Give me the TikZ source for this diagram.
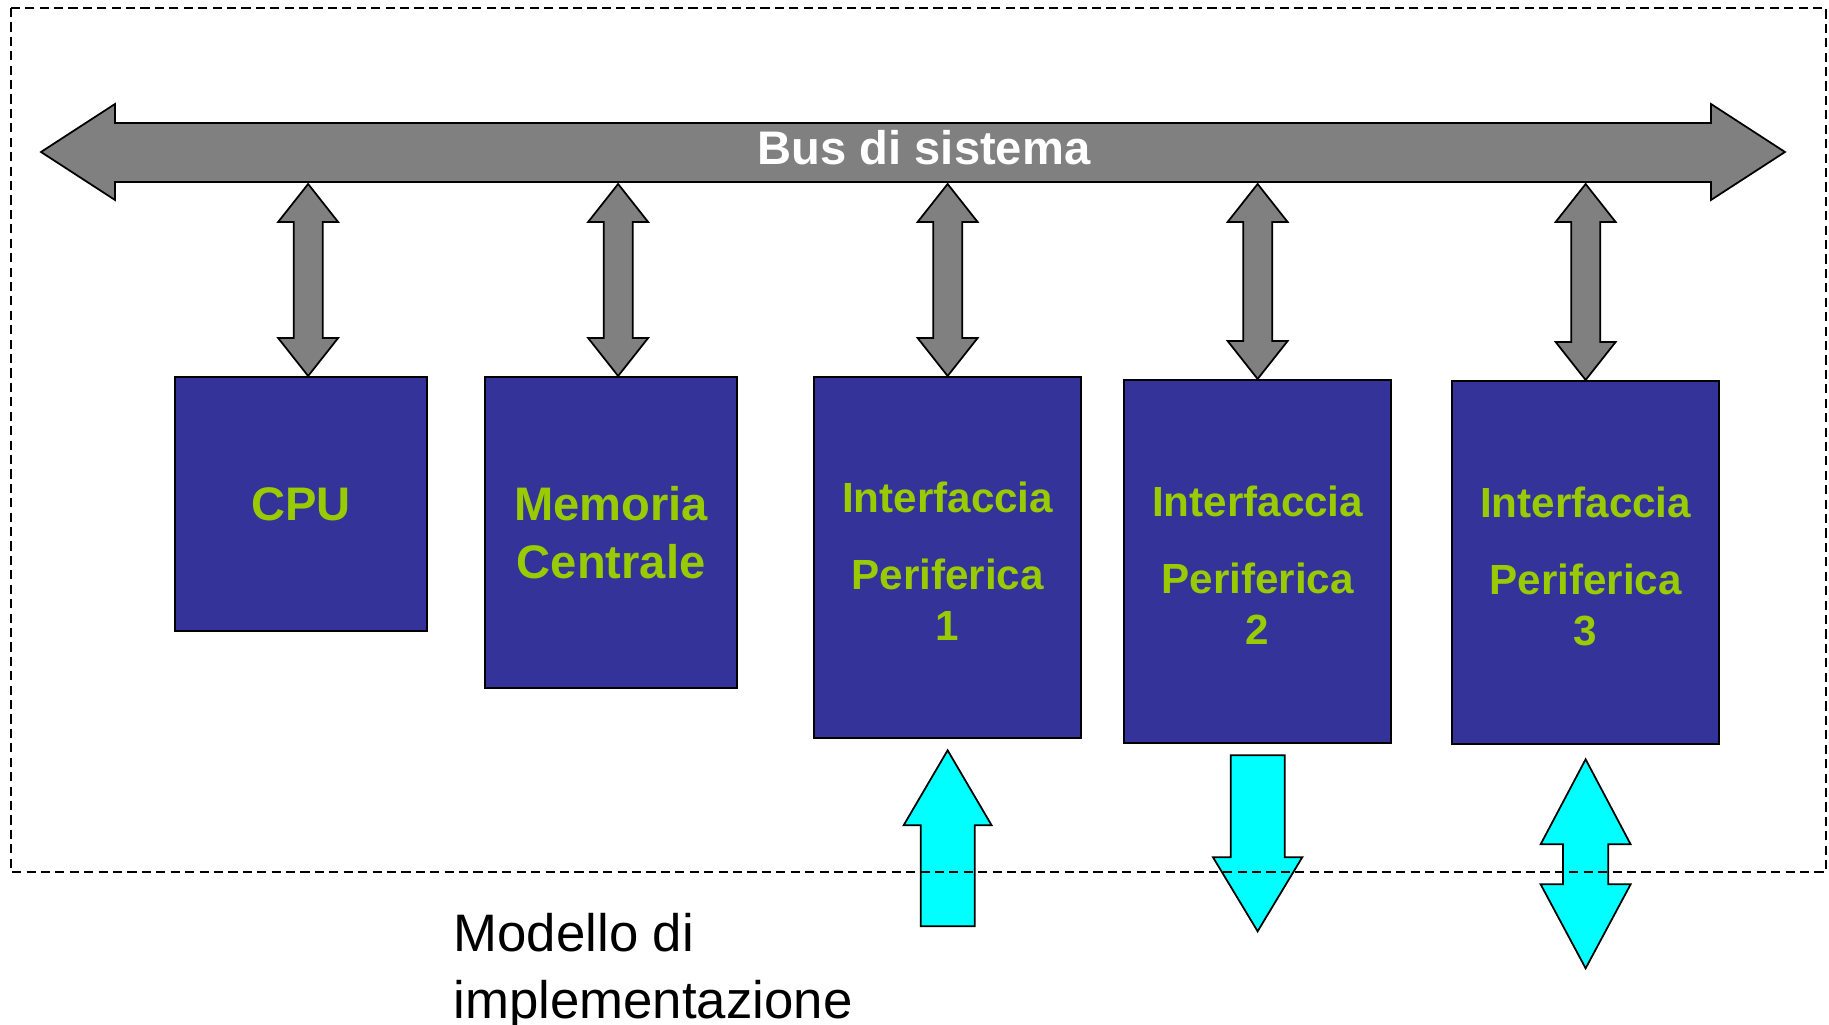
\documentclass[tikz,border=0pt]{standalone}
\usepackage{fontspec}
\setsansfont{Liberation Sans}
\usetikzlibrary{calc}

\definecolor{boxblue}{HTML}{333399}
\definecolor{labelgreen}{HTML}{99CC00}
\definecolor{busgray}{HTML}{808080}
\definecolor{iocyan}{HTML}{00FFFF}

% vertical block arrow: top tip, bottom tip, half shaft, top head (half width, length), bottom head
\newcommand{\fatarrow}[8][]{%
  \coordinate (t) at (#2);
  \coordinate (b) at (#3);
  \draw[#1] (t) -- ($(t)+(#5,#6)$) -- ($(t)+(#4,#6)$) -- ($(b)+(#4,-#8)$) -- ($(b)+(#7,-#8)$)
    -- (b) -- ($(b)+(-#7,-#8)$) -- ($(b)+(-#4,-#8)$) -- ($(t)+(-#4,#6)$) -- ($(t)+(-#5,#6)$) -- cycle;
}

\tikzset{
  unit/.style={draw=black, line width=0.6pt, fill=boxblue, text=labelgreen, anchor=north west,
    align=center, inner sep=0pt, font=\sffamily\bfseries\fontsize{13.4}{16.5}\selectfont},
  port/.style={unit, font=\sffamily\bfseries\fontsize{12}{14.5}\selectfont},
  graylink/.style={draw=black, line width=0.5pt, fill=busgray, line join=miter},
  iolink/.style={draw=black, line width=0.5pt, fill=iocyan, line join=miter},
  buslabel/.style={text=white, anchor=base, inner sep=0pt, font=\sffamily\bfseries\fontsize{13.4}{16}\selectfont},
  note/.style={anchor=north west, align=left, inner sep=0pt, font=\sffamily\fontsize{15}{18.8}\selectfont},
  frame/.style={draw=black, line width=0.4pt, dash pattern=on 2.6pt off 1.5pt}
}

\begin{document}
\begin{tikzpicture}[x=0.01cm, y=-0.01cm]
    \useasboundingbox (0,0) rectangle (1829,1025);

    % system bus
    \draw[graylink] (41,152) -- (115,104) -- (115,123) -- (1711,123) -- (1711,104) -- (1785,152)
        -- (1711,200) -- (1711,182) -- (115,182) -- (115,200) -- cycle;
    \node[buslabel] (bus) at (924,165) {Bus di sistema};
    \coordinate (busbot) at (0,184);

    % units
    \node[unit, minimum width=2.52cm, minimum height=2.54cm] (cpu) at (174,376) {CPU};
    \node[unit, minimum width=2.52cm, minimum height=3.11cm] (mem) at (484,376) {Memoria\\Centrale};
    \node[port, minimum width=2.67cm, minimum height=3.61cm] (if1) at (813,376) {\rule{0pt}{10.7pt}Interfaccia\\[7.4pt]Periferica\\1};
    \node[port, minimum width=2.67cm, minimum height=3.63cm] (if2) at (1123,379) {\rule{0pt}{10.7pt}Interfaccia\\[7.4pt]Periferica\\2};
    \node[port, minimum width=2.67cm, minimum height=3.63cm] (if3) at (1451,380) {\rule{0pt}{10.7pt}Interfaccia\\[7.4pt]Periferica\\3};

    % links to the bus
    \foreach \n/\dx in {cpu/7, mem/7, if1/0, if2/0, if3/0} {
        \coordinate (link) at ($(\n.north)+(\dx,0)$);
        \fatarrow[graylink]{link |- busbot}{link}{14.5}{30}{38}{30}{38}
    }

    % peripheral lines
    \fatarrow[iolink]{$(if1.south)+(0,11)$}{$(if1.south)+(0,187)$}{27}{44}{75}{27}{0}
    \fatarrow[iolink]{$(if2.south)+(0,11)$}{$(if2.south)+(0,187)$}{27}{27}{0}{44.6}{74}
    \fatarrow[iolink]{$(if3.south)+(0,14)$}{$(if3.south)+(0,223)$}{22.6}{45}{85}{45}{84}

    \draw[frame] (11,8) rectangle (1826,872);
    \node[note] (model) at (453,913) {Modello di\\implementazione};
\end{tikzpicture}
\end{document}
